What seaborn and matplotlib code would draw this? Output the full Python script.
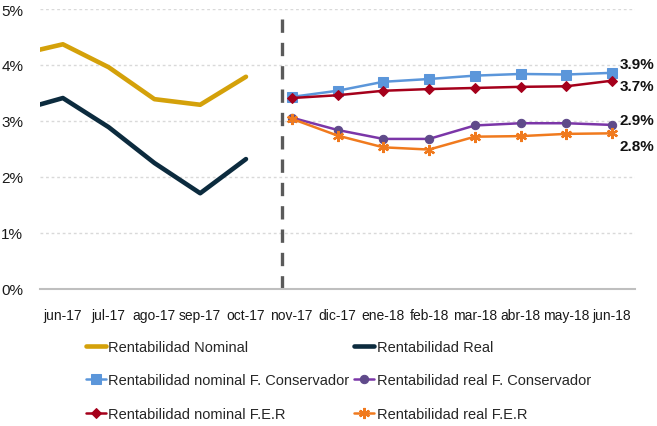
import matplotlib
matplotlib.use("Agg")
import matplotlib.pyplot as plt
from matplotlib import font_manager
import seaborn as sns
import pandas as pd

# Month categories; may-17 only feeds the start of the historical lines
months = ["may-17", "jun-17", "jul-17", "ago-17", "sep-17", "oct-17", "nov-17",
          "dic-17", "ene-18", "feb-18", "mar-18", "abr-18", "may-18", "jun-18"]
hist_months = months[:6]
proj_months = months[6:]

rent_nominal = [4.18, 4.37, 3.96, 3.39, 3.29, 3.79]
rent_real = [3.18, 3.41, 2.89, 2.25, 1.71, 2.32]

nominal_conservador = [3.43, 3.54, 3.70, 3.75, 3.81, 3.84, 3.83, 3.86]
real_conservador = [3.06, 2.84, 2.68, 2.68, 2.92, 2.96, 2.96, 2.93]
nominal_fer = [3.41, 3.46, 3.54, 3.57, 3.59, 3.61, 3.62, 3.72]
real_fer = [3.04, 2.74, 2.53, 2.49, 2.72, 2.73, 2.77, 2.78]

end_labels = ["3.9%", "3.7%", "2.9%", "2.8%"]
y_ticks = [0, 1, 2, 3, 4, 5]
y_tick_labels = ["0%", "1%", "2%", "3%", "4%", "5%"]

sns.set_style("white")
names = {f.name for f in font_manager.fontManager.ttflist}
narrow = "Liberation Sans Narrow" if "Liberation Sans Narrow" in names else "Liberation Sans"
plt.rcParams["font.family"] = [narrow, "DejaVu Sans"]

fig = plt.figure(figsize=(6.57, 4.27), dpi=100)
ax = fig.add_axes([40 / 657, 137 / 427, 595 / 657, 280 / 427])

pos = {m: i for i, m in enumerate(months)}
hist_x = [pos[m] for m in hist_months]
proj_x = [pos[m] for m in proj_months]

series = [
    ("Rentabilidad Nominal", hist_x, rent_nominal, dict(color="#D4A10A", lw=3.3)),
    ("Rentabilidad nominal F. Conservador", proj_x, nominal_conservador,
     dict(color="#5B96DA", lw=1.8, marker="s", ms=6.5, mec="#5B96DA")),
    ("Rentabilidad nominal F.E.R", proj_x, nominal_fer,
     dict(color="#A5001B", lw=1.8, marker="D", ms=5, mec="#A5001B")),
    ("Rentabilidad Real", hist_x, rent_real, dict(color="#0C2B3E", lw=3.3)),
    ("Rentabilidad real F. Conservador", proj_x, real_conservador,
     dict(color="#7B36A8", lw=1.8, marker="o", ms=6, mfc="#5F4A8A", mec="#5F4A8A")),
    ("Rentabilidad real F.E.R", proj_x, real_fer,
     dict(color="#F07A1E", lw=1.8, marker=(6, 2, 0), ms=8, mec="#F07A1E", mew=1.6)),
]

for name, xs, ys, style in series:
    df = pd.DataFrame({"x": xs, "y": ys})
    sns.lineplot(data=df, x="x", y="y", ax=ax, label=name, legend=False,
                 color=style.pop("color"), linewidth=style.pop("lw"),
                 **style, clip_on=True)

# Separator between historical and projected periods
ax.axvline(5.79, ymin=0, ymax=1, color="#5A5A5A", lw=2.4, dashes=(4, 3.0), zorder=1)

ax.set_xlim(0.5, 13.5)
ax.set_ylim(0, 5)
ax.set_xticks(range(1, 14))
ax.set_xticklabels(months[1:], fontsize=10, color="#1A1A1A")
ax.set_yticks(y_ticks)
ax.set_yticklabels(y_tick_labels, fontsize=11, color="#1A1A1A")
ax.tick_params(axis="x", length=0, pad=14)
ax.tick_params(axis="y", length=0, pad=12)
ax.set_xlabel("")
ax.set_ylabel("")

for y in y_ticks[1:]:
    ax.axhline(y, color="#D9D9D9", lw=1, ls=(0, (2, 2)), zorder=0)

for s in ["top", "right", "left"]:
    ax.spines[s].set_visible(False)
ax.spines["bottom"].set_color("#BFBFBF")
ax.spines["bottom"].set_linewidth(1.5)

# End-of-period value labels
end_values = [nominal_conservador[-1], nominal_fer[-1], real_conservador[-1], real_fer[-1]]
offsets = [0.16, -0.09, 0.08, -0.22]
for lab, v, off in zip(end_labels, end_values, offsets):
    ax.text(13.17, v + off, lab, fontsize=11, fontweight="bold",
            va="center", ha="left", color="#111111", clip_on=False)

handles, labels = ax.get_legend_handles_labels()
fig.legend(handles, labels, ncol=2, loc="upper left", bbox_to_anchor=(80 / 657, 1 - 335 / 427),
           frameon=False, fontsize=10.5, handlelength=1.4, handletextpad=0.15,
           columnspacing=0.3, labelspacing=1.33, borderaxespad=0)

fig.savefig("out.png", dpi=100)
